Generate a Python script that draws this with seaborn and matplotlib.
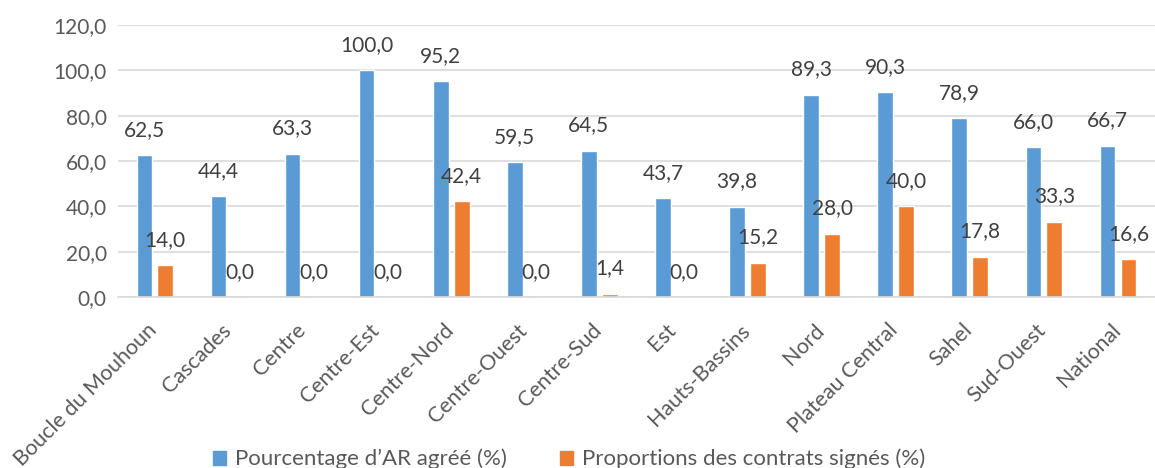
import pandas as pd
import matplotlib.pyplot as plt
import matplotlib.transforms as mtransforms
import seaborn as sns

# donnees
regions = ["Boucle du Mouhoun", "Cascades", "Centre", "Centre-Est", "Centre-Nord",
           "Centre-Ouest", "Centre-Sud", "Est", "Hauts-Bassins", "Nord",
           "Plateau Central", "Sahel", "Sud-Ouest", "National"]
ar_agree = [62.5, 44.4, 63.3, 100.0, 95.2, 59.5, 64.5, 43.7, 39.8, 89.3, 90.3, 78.9, 66.0, 66.7]
contrats = [14.0, 0.0, 0.0, 0.0, 42.4, 0.0, 1.4, 0.0, 15.2, 28.0, 40.0, 17.8, 33.3, 16.6]
series = ["Pourcentage d\u2019AR agréé (%)", "Proportions des contrats signés (%)"]
couleurs = ["#5B9BD5", "#ED7D31"]

df = pd.DataFrame({
    "Region": regions * 2,
    "Serie": [series[0]] * len(regions) + [series[1]] * len(regions),
    "Valeur": ar_agree + contrats,
})

sns.set_style("white")
plt.rcParams["font.family"] = ["Lato", "DejaVu Sans"]

fig = plt.figure(figsize=(11.55, 4.68), dpi=100)
ax = fig.add_axes([0.102, 0.3654, 0.898, 0.5812])

sns.barplot(data=df, x="Region", y="Valeur", hue="Serie", palette=couleurs,
            width=0.565, gap=0.25, ax=ax, legend=False, saturation=1)

virgule = lambda v: f"{v:.1f}".replace(".", ",")
for cont in ax.containers:
    ax.bar_label(cont, fmt=virgule, padding=11, fontsize=15, color="#404040")

ax.set_ylim(0, 120)
ax.set_xlim(-0.5, len(regions) - 0.5)
ax.set_yticks(range(0, 121, 20))
ax.set_yticklabels([virgule(t) for t in range(0, 121, 20)], fontsize=15, color="#595959")
ax.yaxis.grid(True, color="#d9d9d9", linewidth=1.2)
ax.set_axisbelow(True)
for s in ["top", "right", "left"]:
    ax.spines[s].set_visible(False)
ax.spines["bottom"].set_color("#d9d9d9")
ax.spines["bottom"].set_linewidth(1.2)
ax.tick_params(length=0, pad=8)
ax.set_xlabel("")
ax.set_ylabel("")

# decaler un peu les etiquettes de l'axe x (vers le bas et la gauche)
decalage = mtransforms.ScaledTranslation(-8 / 100, -12 / 100, fig.dpi_scale_trans)
for lab in ax.get_xticklabels():
    lab.set_rotation(45)
    lab.set_ha("right")
    lab.set_rotation_mode("anchor")
    lab.set_fontsize(15.5)
    lab.set_color("#595959")
    lab.set_transform(lab.get_transform() + decalage)

handles = [plt.Rectangle((0, 0), 1, 1, color=c) for c in couleurs]
fig.legend(handles, series, loc="center", bbox_to_anchor=(0.4926, 0.019), ncol=2,
           frameon=False, fontsize=16, labelcolor="#595959", handlelength=0.6,
           handleheight=0.6, handletextpad=0.4, columnspacing=2.4)

fig.savefig("out.png", dpi=100)
